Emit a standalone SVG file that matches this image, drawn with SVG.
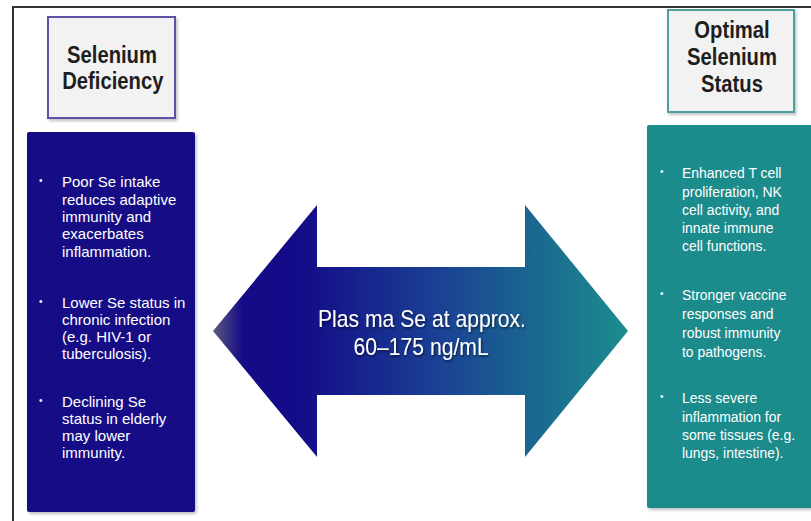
<svg xmlns="http://www.w3.org/2000/svg" width="811" height="521" viewBox="0 0 811 521">
<defs>
<linearGradient id="arrowGrad" gradientUnits="userSpaceOnUse" x1="213" y1="0" x2="628" y2="0">
<stop offset="0" stop-color="#5c5a80"/>
<stop offset="0.07" stop-color="#160b86"/>
<stop offset="0.2" stop-color="#130a88"/>
<stop offset="0.55" stop-color="#1a4294"/>
<stop offset="1" stop-color="#1b8d8d"/>
</linearGradient>
<filter id="shadow" x="-10%" y="-10%" width="130%" height="130%">
<feDropShadow dx="1.5" dy="2" stdDeviation="1.5" flood-color="#000" flood-opacity="0.25"/>
</filter>
<filter id="txtShadow" x="-10%" y="-30%" width="120%" height="160%">
<feDropShadow dx="1" dy="1.5" stdDeviation="1" flood-color="#000" flood-opacity="0.6"/>
</filter>
</defs>
<style>
.title{font-family:"Liberation Sans",Arial,sans-serif;font-weight:bold;font-size:23px;fill:#1e1e1e;text-anchor:middle}
.body{font-family:"Liberation Sans",Arial,sans-serif;font-size:15px;fill:#fff}
.bul{font-family:"Liberation Sans",Arial,sans-serif;font-size:10px;fill:#fff}
.center{font-family:"Liberation Sans",Arial,sans-serif;font-size:23px;fill:#fff;text-anchor:middle}
</style>
<rect width="811" height="521" fill="#fff"/>
<g id="frame">
<path d="M13 521 V7 H811" fill="none" stroke="#333" stroke-width="2"/>
</g>
<g id="connectors">
<path d="M213 331 L317 205 L317 267 L525 267 L525 205 L628 331 L525 457 L525 395 L317 395 L317 457 Z" fill="url(#arrowGrad)"/>
<g filter="url(#txtShadow)" transform="translate(422 0) scale(0.92 1) translate(-422 0)">
<text class="center" x="422" y="327">Plas ma Se at approx.</text>
<text class="center" x="421" y="355">60–175 ng/mL</text>
</g>
</g>
<g id="title-deficiency">
<rect x="48" y="17" width="127" height="101" fill="#f2f2f2" stroke="#5b52a6" stroke-width="2" filter="url(#shadow)"/>
<g transform="translate(112 0) scale(0.88 1) translate(-112 0)">
<text class="title" x="112" y="63">Selenium</text>
<text class="title" x="113" y="89">Deficiency</text>
</g>
</g>
<g id="title-optimal">
<rect x="668" y="10" width="126" height="102" fill="#f2f2f2" stroke="#4e9e9e" stroke-width="2" filter="url(#shadow)"/>
<g transform="translate(732 0) scale(0.88 1) translate(-732 0)">
<text class="title" x="732" y="38">Optimal</text>
<text class="title" x="732" y="65">Selenium</text>
<text class="title" x="732" y="92">Status</text>
</g>
</g>
<g id="deficiency-box">
<rect x="27" y="132" width="168" height="380" rx="2" fill="#170b86" filter="url(#shadow)"/>
<text class="bul" x="39" y="184">•</text>
<text class="body" x="62" y="187">Poor Se intake</text>
<text class="body" x="62" y="205">reduces adaptive</text>
<text class="body" x="62" y="222">immunity and</text>
<text class="body" x="62" y="239">exacerbates</text>
<text class="body" x="62" y="257">inflammation.</text>
<text class="bul" x="39" y="305">•</text>
<text class="body" x="62" y="308">Lower Se status in</text>
<text class="body" x="62" y="325">chronic infection</text>
<text class="body" x="62" y="342">(e.g. HIV-1 or</text>
<text class="body" x="62" y="359">tuberculosis).</text>
<text class="bul" x="39" y="404">•</text>
<text class="body" x="62" y="407">Declining Se</text>
<text class="body" x="62" y="424">status in elderly</text>
<text class="body" x="62" y="441">may lower</text>
<text class="body" x="62" y="458">immunity.</text>
</g>
<g id="optimal-box">
<rect x="647" y="125" width="170" height="383" rx="2" fill="#1e8b8b" filter="url(#shadow)"/>
<text class="bul" x="660" y="175">•</text>
<text class="bul" x="660" y="297">•</text>
<text class="bul" x="660" y="400">•</text>
<g transform="translate(682 0) scale(0.93 1) translate(-682 0)">
<text class="body" x="682" y="178">Enhanced T cell</text>
<text class="body" x="682" y="197">proliferation, NK</text>
<text class="body" x="682" y="215">cell activity, and</text>
<text class="body" x="682" y="233">innate immune</text>
<text class="body" x="682" y="251">cell functions.</text>
<text class="body" x="682" y="300">Stronger vaccine</text>
<text class="body" x="682" y="319">responses and</text>
<text class="body" x="682" y="338">robust immunity</text>
<text class="body" x="682" y="357">to pathogens.</text>
<text class="body" x="682" y="403">Less severe</text>
<text class="body" x="682" y="422">inflammation for</text>
<text class="body" x="682" y="440">some tissues (e.g.</text>
<text class="body" x="682" y="458">lungs, intestine).</text>
</g>
</g>
</svg>
